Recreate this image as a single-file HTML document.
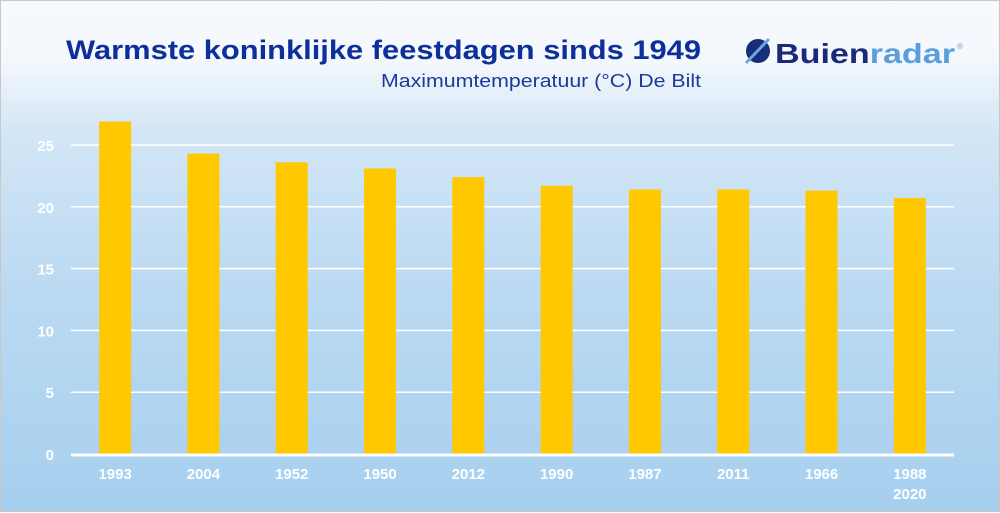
<!DOCTYPE html>
<html><head><meta charset="utf-8"><style>
html,body{margin:0;padding:0}
body{width:1000px;height:512px;overflow:hidden;font-family:"Liberation Sans",sans-serif}
#wrap{position:absolute;left:0;top:0;width:998px;height:510px;border:1px solid #c8c8c8;background:linear-gradient(to bottom,#f7f9fc 0px,#f4f8fc 60px,#d3e6f6 130px,#bcdaf2 280px,#a6cfee 512px)}
svg{position:absolute;left:0;top:0}
</style></head><body>
<div id="wrap">
<svg id="chart" width="1000" height="512">
<text x="65" y="58" textLength="635" lengthAdjust="spacingAndGlyphs" font-size="27" font-weight="bold" fill="#0c2f9a">Warmste koninklijke feestdagen sinds 1949</text>
<text x="380" y="86" textLength="320" lengthAdjust="spacingAndGlyphs" font-size="18" fill="#1c3a9c">Maximumtemperatuur (°C) De Bilt</text>
<g>
<circle cx="757" cy="50" r="12" fill="#1a2d7a"/>
<line x1="745" y1="62" x2="768" y2="38" stroke="#6aa8e0" stroke-width="3"/>
<text x="774" y="62" textLength="180" lengthAdjust="spacingAndGlyphs" font-size="28" font-weight="bold" fill="#1a2a78">Buien<tspan fill="#5a9fdc">radar</tspan></text>
<text x="956" y="48" font-size="8" fill="#5a9fdc">®</text>
</g>
<g id="grid"></g><g id="bars"></g><g id="labels"></g>
</svg>
</div>
<script>
const categories=["1993","2004","1952","1950","2012","1990","1987","2011","1966","1988|2020"];
const values=[26.9,24.3,23.6,23.1,22.4,21.7,21.4,21.4,21.3,20.7];
const ticks=[0,5,10,15,20,25];
const NS="http://www.w3.org/2000/svg";
const x0=70,x1=953,y0=453,pxPer=(453-144)/25;
const band=(x1-x0)/categories.length,bw=32;
const y=v=>y0-v*pxPer;
const xc=i=>x0+band*(i+0.5);
function mk(t,a,p){const e=document.createElementNS(NS,t);for(const k in a)e.setAttribute(k,a[k]);p.appendChild(e);return e;}
const g=document.getElementById('grid'),b=document.getElementById('bars'),l=document.getElementById('labels');
ticks.forEach(t=>{
 if(t>0){const ln=mk('line',{x1:x0,x2:x1,y1:y(t),y2:y(t),stroke:'#ffffff','stroke-width':1.5},g);
 
 }
 const tx=mk('text',{x:53,y:y(t)+6,'text-anchor':'end','font-size':15,'font-weight':'bold',fill:'#ffffff'},l);
 tx.textContent=t;
 
 
});
values.forEach((v,i)=>{
 const r=mk('rect',{x:xc(i)-bw/2,y:y(v),width:bw,height:y0-y(v),fill:'#ffc800'},b);
 
 
 categories[i].split('|').forEach((s,j)=>{
  const tx=mk('text',{x:xc(i),y:478+j*20,'text-anchor':'middle','font-size':15,'font-weight':'bold',fill:'#ffffff'},l);
  tx.textContent=s;
  
  
 });
});
const ax=mk('line',{x1:x0,x2:x1,y1:y0+1,y2:y0+1,stroke:'#ffffff','stroke-width':3},g.parentNode);


</script>
</body></html>
